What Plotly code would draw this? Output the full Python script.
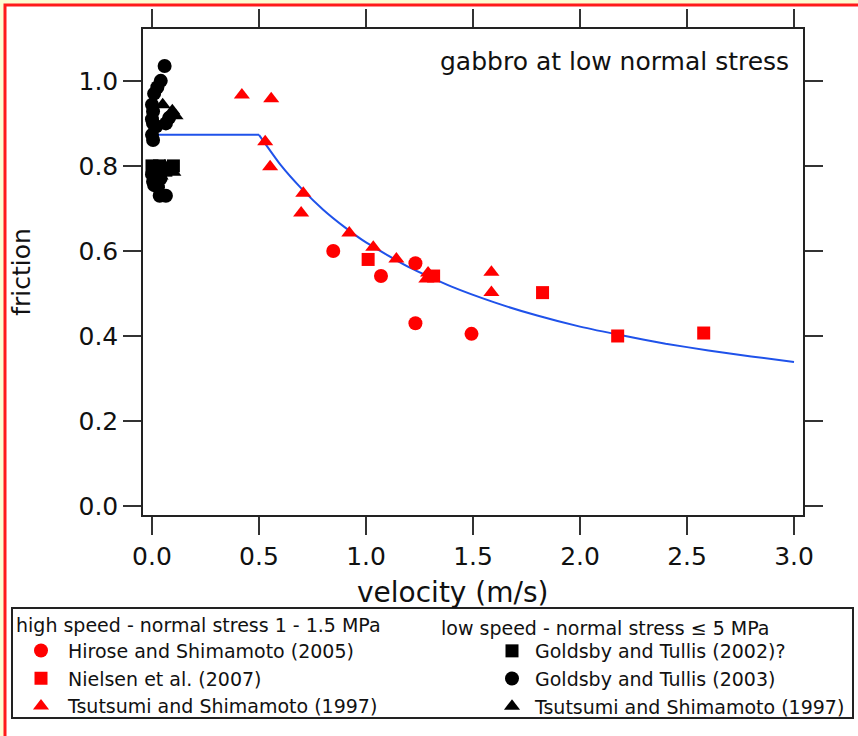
import plotly.graph_objects as go

# ---------------- data ----------------
# high speed, red
hirose_v = [0.847, 1.07, 1.231, 1.231, 1.493]
hirose_f = [0.600, 0.541, 0.571, 0.430, 0.405]

nielsen_v = [1.01, 1.316, 1.825, 2.176, 2.578]
nielsen_f = [0.580, 0.541, 0.502, 0.400, 0.407]

tsutsumi_hs_v = [0.42, 0.557, 0.529, 0.552, 0.707, 0.697, 0.922, 1.034, 1.142, 1.282, 1.29, 1.586, 1.586]
tsutsumi_hs_f = [0.967, 0.958, 0.857, 0.798, 0.736, 0.689, 0.642, 0.609, 0.581, 0.534, 0.548, 0.550, 0.502]

# low speed, black
goldsby02_v = [0.0, 0.035, 0.065, 0.10]
goldsby02_f = [0.800, 0.800, 0.790, 0.800]

goldsby03_v = [0.059, 0.041, 0.025, 0.01, 0.0, 0.005, 0.0, 0.005, 0.02, 0.0, 0.005, 0.065, 0.08,
               0.0, 0.005, 0.01, 0.028, 0.036, 0.065, 0.04]
goldsby03_f = [1.035, 1.000, 0.985, 0.970, 0.944, 0.928, 0.910, 0.900, 0.893, 0.873, 0.861, 0.900, 0.913,
               0.780, 0.763, 0.755, 0.750, 0.730, 0.730, 0.770]

tsutsumi_ls_v = [0.05, 0.095, 0.11, 0.04, 0.10, 0.06]
tsutsumi_ls_f = [0.944, 0.930, 0.918, 0.776, 0.785, 0.800]

# model curve: flat plateau, then decay
plateau_v = [0.0, 0.5]
plateau_f = [0.873, 0.873]
decay_v = [0.5, 0.6, 0.7, 0.8, 0.9, 1.0, 1.2, 1.4, 1.6, 1.8, 2.0, 2.2, 2.4, 2.6, 2.8, 3.0]
decay_f = [0.873, 0.803, 0.746, 0.697, 0.656, 0.620, 0.562, 0.516, 0.479, 0.448,
           0.422, 0.401, 0.382, 0.366, 0.352, 0.339]

x_ticks = [0.0, 0.5, 1.0, 1.5, 2.0, 2.5, 3.0]
y_ticks = [0.0, 0.2, 0.4, 0.6, 0.8, 1.0]

title_text = "gabbro at low normal stress"
x_title = "velocity (m/s)"
y_title = "friction"
hs_title = "high speed - normal stress 1 - 1.5 MPa"
ls_title = "low speed - normal stress \u2264 5 MPa"

# ---------------- layout helpers ----------------
W, H = 858, 736
L, R, T, B = 143, 803, 29, 515
def px(x):
    return (x - L) / (R - L)
def py(y):
    return (B - y) / (B - T)

FONT = "DejaVu Sans"
RED = "#ff0000"
BLACK = "#000000"
BLUE = "#1f52ea"

fig = go.Figure()

fig.add_trace(go.Scatter(x=plateau_v, y=plateau_f, mode="lines",
                         line=dict(color=BLUE, width=2),
                         showlegend=False, hoverinfo="skip"))
fig.add_trace(go.Scatter(x=decay_v, y=decay_f, mode="lines",
                         line=dict(color=BLUE, width=2, shape="spline", smoothing=0.5),
                         showlegend=False, hoverinfo="skip"))

def add_pts(xv, yv, name, color, symbol, size, legend):
    fig.add_trace(go.Scatter(x=xv, y=yv, mode="markers", name=name,
                             marker=dict(color=color, symbol=symbol, size=size, line=dict(width=0)),
                             legend=legend))

add_pts(hirose_v, hirose_f, "Hirose and Shimamoto (2005)", RED, "circle", 14, "legend")
add_pts(nielsen_v, nielsen_f, "Nielsen et al. (2007)", RED, "square", 13, "legend")
add_pts(tsutsumi_hs_v, tsutsumi_hs_f, "Tsutsumi and Shimamoto (1997)", RED, "triangle-up", 14, "legend")
add_pts(goldsby02_v, goldsby02_f, "Goldsby and Tullis (2002)?", BLACK, "square", 13, "legend2")
add_pts(goldsby03_v, goldsby03_f, "Goldsby and Tullis (2003)", BLACK, "circle", 14, "legend2")
add_pts(tsutsumi_ls_v, tsutsumi_ls_f, "Tsutsumi and Shimamoto (1997)", BLACK, "triangle-up", 14, "legend2")

axis_common = dict(showline=True, linecolor="#222", linewidth=1.5, mirror="allticks",
                   ticks="outside", ticklen=18, tickwidth=1.5, tickcolor="#333",
                   showgrid=False, zeroline=False, tickformat=".1f",
                   tickfont=dict(family=FONT, size=25, color="#111"))

fig.update_layout(
    width=W, height=H,
    margin=dict(l=L, r=W - R, t=T, b=H - B, autoexpand=False),
    paper_bgcolor="#fdfbd2", plot_bgcolor="white",
    font=dict(family=FONT, size=25, color="#111"),
    xaxis=dict(range=[-0.042, 3.042], tickvals=x_ticks, **axis_common),
    yaxis=dict(range=[-0.021, 1.122], tickvals=y_ticks,
               title=dict(text=y_title, font=dict(family=FONT, size=25), standoff=41),
               **axis_common),
    legend=dict(title=dict(text=hs_title, font=dict(family=FONT, size=19)),
                font=dict(family=FONT, size=19, color="#111"),
                x=px(14), y=py(607), xanchor="left", yanchor="top",
                bgcolor="rgba(0,0,0,0)", itemwidth=44, tracegroupgap=0),
    legend2=dict(font=dict(family=FONT, size=19, color="#111"),
                 x=px(489), y=py(632), xanchor="left", yanchor="top",
                 bgcolor="rgba(0,0,0,0)", itemwidth=36, tracegroupgap=0),
    shapes=[
        # white page with red frame
        dict(type="rect", xref="paper", yref="paper", layer="below",
             x0=px(5), x1=px(W + 20), y0=py(H + 20), y1=py(5),
             fillcolor="white", line=dict(color="#ff1a1a", width=3)),
        # legend box
        dict(type="rect", xref="paper", yref="paper",
             x0=px(12), x1=px(853), y0=py(718), y1=py(608),
             fillcolor="rgba(0,0,0,0)", line=dict(color="#222", width=2)),
    ],
    annotations=[
        dict(text=title_text, xref="paper", yref="paper", x=px(791), y=py(62),
             xanchor="right", yanchor="middle", showarrow=False,
             font=dict(family=FONT, size=25, color="#111")),
        dict(text=x_title, xref="paper", yref="paper", x=px(452), y=py(592),
             xanchor="center", yanchor="middle", showarrow=False,
             font=dict(family=FONT, size=28, color="#111")),
        dict(text=ls_title, xref="paper", yref="paper", x=px(439), y=py(628),
             xanchor="left", yanchor="middle", showarrow=False,
             font=dict(family=FONT, size=19, color="#111")),
    ],
)

fig.write_html("out.html")
